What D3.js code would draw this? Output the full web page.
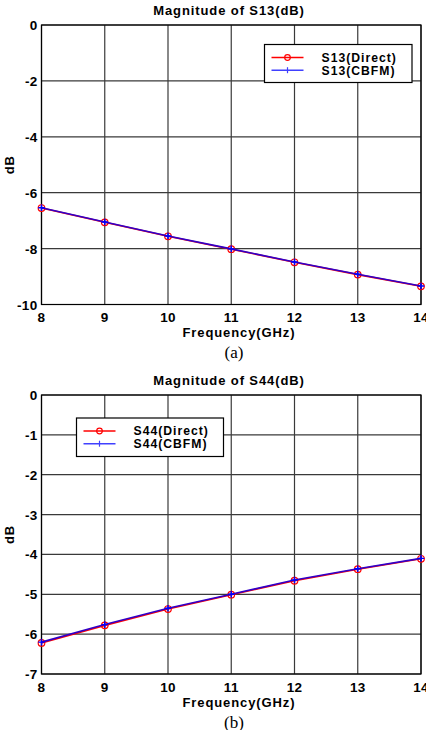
<!DOCTYPE html>
<html>
<head>
<meta charset="utf-8">
<script src="https://cdn.jsdelivr.net/npm/d3@7"></script>
<style>
  body { margin: 0; background: #fff; }
  svg text { font-family: "Liberation Sans", Arial, sans-serif; font-weight: bold; }
</style>
</head>
<body>
<div id="chart"></div>
<script>
// frequencies (GHz)
var freq = [8, 9, 10, 11, 12, 13, 14];

// panel (a): S13
var s13Direct = [-6.55, -7.06, -7.56, -8.02, -8.49, -8.93, -9.35];
var s13Cbfm   = [-6.54, -7.05, -7.55, -8.01, -8.48, -8.92, -9.34];
var s13Ticks  = [0, -2, -4, -6, -8, -10];

// panel (b): S44
var s44Direct = [-6.22, -5.78, -5.37, -5.01, -4.66, -4.37, -4.11];
var s44Cbfm   = [-6.20, -5.76, -5.35, -5.00, -4.64, -4.36, -4.10];
var s44Ticks  = [0, -1, -2, -3, -4, -5, -6, -7];

var xTicks = [8, 9, 10, 11, 12, 13, 14];

var svg = d3.select("#chart")
  .append("svg")
  .attr("width", 426)
  .attr("height", 730);

function panel(opt) {
  var x = d3.scaleLinear().domain([8, 14]).range([opt.left, opt.right]);
  var y = d3.scaleLinear().domain(opt.ydomain).range([opt.bottom, opt.top]);

  var g = svg.append("g");

  // grid
  g.selectAll(".vgrid").data(xTicks).enter().append("line")
    .attr("x1", function(d) { return x(d) }).attr("x2", function(d) { return x(d) })
    .attr("y1", opt.top).attr("y2", opt.bottom)
    .attr("stroke", "#3a3a3a").attr("stroke-width", 1.2)
  g.selectAll(".hgrid").data(opt.yticks).enter().append("line")
    .attr("x1", opt.left).attr("x2", opt.right)
    .attr("y1", function(d) { return y(d) }).attr("y2", function(d) { return y(d) })
    .attr("stroke", "#3a3a3a").attr("stroke-width", 1.2)

  g.append("rect")
    .attr("x", opt.left).attr("y", opt.top)
    .attr("width", opt.right - opt.left).attr("height", opt.bottom - opt.top)
    .attr("fill", "none").attr("stroke", "#000").attr("stroke-width", 1.2)

  // tick labels
  g.selectAll(".ylab").data(opt.yticks).enter().append("text")
    .attr("x", opt.left - 4).attr("y", function(d) { return y(d) + 5 })
    .attr("text-anchor", "end").attr("font-size", 13.5).attr("letter-spacing", 0.3)
    .text(function(d) { return d })
  g.selectAll(".xlab").data(xTicks).enter().append("text")
    .attr("x", function(d) { return x(d) }).attr("y", opt.bottom + 17.5)
    .attr("text-anchor", "middle").attr("font-size", 13.5).attr("letter-spacing", 0.3)
    .text(function(d) { return d })

  // titles
  g.append("text").attr("x", 229).attr("y", opt.top - 10)
    .attr("text-anchor", "middle").attr("font-size", 13).attr("letter-spacing", 0.9)
    .text(opt.title)
  g.append("text").attr("x", 239).attr("y", opt.bottom + 32.5)
    .attr("text-anchor", "middle").attr("font-size", 13).attr("letter-spacing", 0.9)
    .text("Frequency(GHz)")
  g.append("text")
    .attr("transform", "translate(14," + ((opt.top + opt.bottom) / 2) + ") rotate(-90)")
    .attr("text-anchor", "middle").attr("font-size", 13).attr("letter-spacing", 0.9)
    .text("dB")
  g.append("text").attr("x", 234).attr("y", opt.bottom + 53.5)
    .attr("text-anchor", "middle").attr("font-size", 17)
    .style("font-family", "'Liberation Serif', 'Times New Roman', serif").style("font-weight", "normal")
    .text(opt.caption)

  var line = d3.line()
    .x(function(d, i) { return x(freq[i]) })
    .y(function(d) { return y(d) })

  // Direct: red with circles
  g.append("path").datum(opt.direct).attr("d", line)
    .attr("fill", "none").attr("stroke", "#ff0000").attr("stroke-width", 1.6)
  g.selectAll(".circ").data(opt.direct).enter().append("circle")
    .attr("cx", function(d, i) { return x(freq[i]) }).attr("cy", function(d) { return y(d) })
    .attr("r", 3.3).attr("fill", "none").attr("stroke", "#ff0000").attr("stroke-width", 1.2)

  // CBFM: blue with plus
  g.append("path").datum(opt.cbfm).attr("d", line)
    .attr("fill", "none").attr("stroke", "#3000c8").attr("stroke-width", 1.6)
  var s = 3.3
  g.selectAll(".plus").data(opt.cbfm).enter().append("path")
    .attr("d", function(d, i) {
      var cx = x(freq[i]), cy = y(d)
      return "M" + (cx - s) + "," + cy + "H" + (cx + s) + "M" + cx + "," + (cy - s) + "V" + (cy + s)
    })
    .attr("stroke", "#0000ff").attr("stroke-width", 1.4)

  // legend
  var L = opt.legend
  var lg = g.append("g")
  lg.append("rect").attr("x", L.x).attr("y", L.y).attr("width", L.w).attr("height", L.h)
    .attr("fill", "#fff").attr("stroke", "#000").attr("stroke-width", 1.2)
  var items = [
    { name: opt.names[0], color: "#ff0000", marker: "circle" },
    { name: opt.names[1], color: "#4040ff", marker: "plus" }
  ]
  items.forEach(function(it, i) {
    var yy = L.y + 13 + i * 12.7
    lg.append("line").attr("x1", L.x + 7).attr("x2", L.x + 39)
      .attr("y1", yy).attr("y2", yy).attr("stroke", it.color).attr("stroke-width", 1.4)
    if (it.marker == "circle") {
      lg.append("circle").attr("cx", L.x + 23).attr("cy", yy).attr("r", 2.8)
        .attr("fill", "none").attr("stroke", it.color).attr("stroke-width", 1.2)
    } else {
      lg.append("line").attr("x1", L.x + 23).attr("x2", L.x + 23)
        .attr("y1", yy - 3).attr("y2", yy + 3).attr("stroke", it.color).attr("stroke-width", 1.2)
    }
    lg.append("text").attr("x", L.x + 57).attr("y", yy + 4.3)
      .attr("font-size", 12.2).attr("letter-spacing", 1)
      .text(it.name)
  })
}

panel({
  left: 41.5, right: 421, top: 25, bottom: 304.5,
  ydomain: [-10, 0], yticks: s13Ticks,
  direct: s13Direct, cbfm: s13Cbfm,
  title: "Magnitude of S13(dB)", caption: "(a)",
  names: ["S13(Direct)", "S13(CBFM)"],
  legend: { x: 264.5, y: 44.5, w: 147.5, h: 38 }
})

panel({
  left: 41.5, right: 421, top: 395, bottom: 674,
  ydomain: [-7, 0], yticks: s44Ticks,
  direct: s44Direct, cbfm: s44Cbfm,
  title: "Magnitude of S44(dB)", caption: "(b)",
  names: ["S44(Direct)", "S44(CBFM)"],
  legend: { x: 76.5, y: 418, w: 147, h: 38.5 }
})
</script>
</body>
</html>
